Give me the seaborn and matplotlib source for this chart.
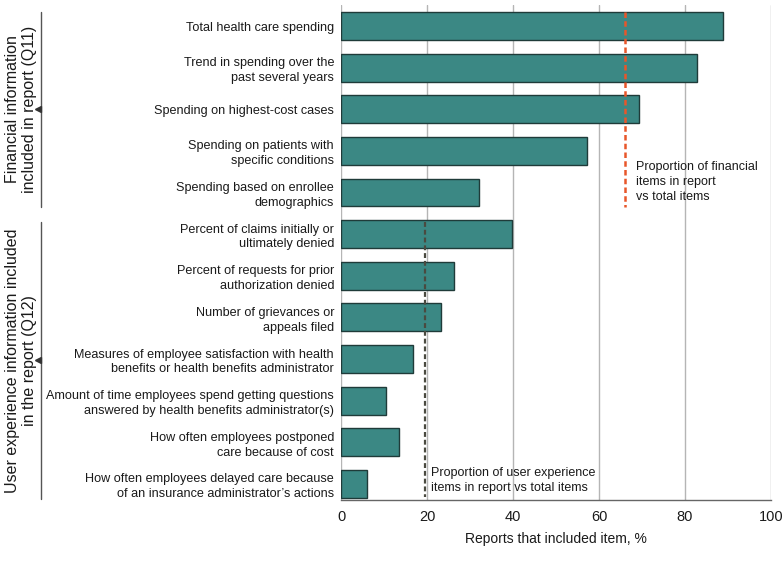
import matplotlib
matplotlib.use('Agg')
import matplotlib.pyplot as plt
import matplotlib.transforms as mtransforms
import seaborn as sns
import pandas as pd

sns.set_theme(style='white')
plt.rcParams['font.family'] = ['Liberation Sans Narrow', 'Liberation Sans', 'DejaVu Sans']

items = [
    'Total health care spending',
    'Trend in spending over the\npast several years',
    'Spending on highest-cost cases',
    'Spending on patients with\nspecific conditions',
    'Spending based on enrollee\ndemographics',
    'Percent of claims initially or\nultimately denied',
    'Percent of requests for prior\nauthorization denied',
    'Number of grievances or\nappeals filed',
    'Measures of employee satisfaction with health\nbenefits or health benefits administrator',
    'Amount of time employees spend getting questions\nanswered by health benefits administrator(s)',
    'How often employees postponed\ncare because of cost',
    'How often employees delayed care because\nof an insurance administrator\u2019s actions',
]
pct = [88.8, 82.9, 69.3, 57.1, 32.0, 39.8, 26.3, 23.3, 16.8, 10.4, 13.4, 6.1]
groups = ['Financial information\nincluded in report (Q11)',
          'User experience information included\nin the report (Q12)']
fin_share = 66.0
ux_share = 19.5
fin_note = 'Proportion of financial\nitems in report\nvs total items'
ux_note = 'Proportion of user experience\nitems in report vs total items'

df = pd.DataFrame({'item': items, 'pct': pct})

fig = plt.figure(figsize=(7.83, 5.66), dpi=100)
ax = fig.add_axes([341 / 783, 1 - 500 / 566, 430 / 783, 495 / 566])

ax.grid(axis='x', color='#b5b5b5', linewidth=1.0, zorder=0)
ax.set_axisbelow(True)
sns.barplot(data=df, x='pct', y='item', color='#3b8884', saturation=1,
            edgecolor='#1f3b39', linewidth=1.0, width=0.67, ax=ax, zorder=2)

ax.set_xlim(0, 100)
ax.set_ylim(11.385, -0.505)
ax.set_xticks([0, 20, 40, 60, 80, 100])
ax.set_xlabel('Reports that included item, %', fontsize=10, color='#1a1a1a', labelpad=6)
ax.set_ylabel('')
ax.tick_params(axis='x', length=4, width=1, color='#666666', labelsize=10.5, labelcolor='#1a1a1a', pad=3)
ax.tick_params(axis='y', length=0, labelsize=9.1, labelcolor='#1a1a1a', pad=5)
for lab in ax.get_yticklabels():
    lab.set_multialignment('right')
    lab.set_linespacing(1.3)
for s in ['top', 'right', 'left']:
    ax.spines[s].set_visible(False)
ax.spines['bottom'].set_color('#666666')
ax.spines['bottom'].set_linewidth(1.0)

# reference lines
ax.plot([fin_share, fin_share], [-0.34, 4.35], color='#e8562a', linestyle=(0, (2.2, 1.3)),
        linewidth=1.8, zorder=3)
ax.plot([ux_share, ux_share], [4.71, 11.32], color='#4a4a40', linestyle=(0, (2.2, 1.3)),
        linewidth=1.6, zorder=3)
ax.text(fin_share + 2.6, 3.75, fin_note, fontsize=9, color='#1a1a1a', va='center', ha='left',
        linespacing=1.35)
ax.text(ux_share + 1.4, 10.91, ux_note, fontsize=9, color='#1a1a1a', va='center', ha='left',
        linespacing=1.3)

# group brackets on the left
trans = mtransforms.blended_transform_factory(fig.transFigure, ax.transData)
spans = [(-0.34, 4.35), (4.71, 11.35)]
for (y0, y1), name in zip(spans, groups):
    xb = 41 / 783
    ax.plot([xb, xb], [y0, y1], transform=trans, color='#555555', linewidth=1.0, clip_on=False)
    ym = (y0 + y1) / 2
    ax.plot([xb - 3 / 783], [ym], transform=trans, marker='<', markersize=5, color='#333333',
            clip_on=False)
    ax.text(21 / 783, ym, name, transform=trans, rotation=90, ha='center', va='center',
            multialignment='center', fontsize=11.5, color='#1a1a1a', linespacing=1.15)

fig.savefig('out.png', dpi=100)
